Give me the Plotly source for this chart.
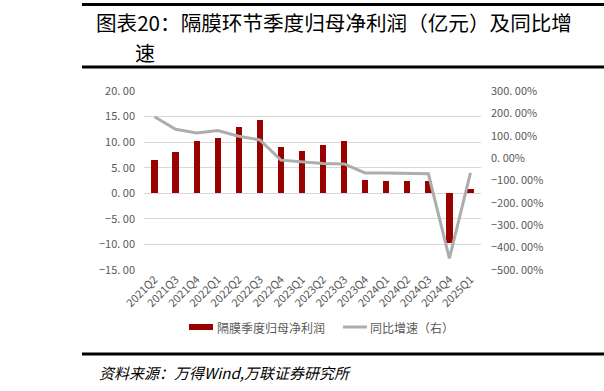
import plotly.graph_objects as go

categories = ["2021Q2", "2021Q3", "2021Q4", "2022Q1", "2022Q2", "2022Q3", "2022Q4",
              "2023Q1", "2023Q2", "2023Q3", "2023Q4", "2024Q1", "2024Q2", "2024Q3",
              "2024Q4", "2025Q1"]
net_profit = [6.6, 8.0, 10.2, 10.8, 13.0, 14.3, 9.0, 8.2, 9.4, 10.2, 2.65, 2.45, 2.5, 2.45, -9.8, 0.85]
yoy_growth = [185, 129, 112, 123, 98, 81, -9, -18, -24, -26, -66, -66, -67, -70, -448, -66]

left_ticks = [20, 15, 10, 5, 0, -5, -10, -15]
left_text = ["20. 00", "15. 00", "10. 00", "5. 00", "0. 00", "−5. 00", "−10. 00", "−15. 00"]
right_ticks = [300, 200, 100, 0, -100, -200, -300, -400, -500]
right_text = ["300. 00%", "200. 00%", "100. 00%", "0. 00%", "−100. 00%", "−200. 00%",
              "−300. 00%", "−400. 00%", "−500. 00%"]

FONT = "Noto Sans CJK SC"
GRAY = "#595959"

# plot area in pixels
L, R, T, B = 144, 481, 91, 270
W, H = R - L, B - T


def px(x):
    return (x - L) / W


def py(y):
    return (B - y) / H


fig = go.Figure()
fig.add_trace(go.Bar(x=categories, y=net_profit, name="隔膜季度归母净利润",
                     marker=dict(color="#990000", line=dict(width=0)), width=0.3,
                     yaxis="y", showlegend=False))
fig.add_trace(go.Scatter(x=categories, y=yoy_growth, name="同比增速（右）", mode="lines",
                         line=dict(color="#ADADAD", width=3), yaxis="y2", showlegend=False))

shapes = []
for (x0, x1, y) in [(82, 610, 4.5), (82, 610, 67), (82, 610, 354)]:
    shapes.append(dict(type="line", xref="paper", yref="paper", x0=px(x0), x1=px(x1),
                       y0=py(y), y1=py(y), line=dict(color="black", width=3)))
# legend marks
shapes.append(dict(type="rect", xref="paper", yref="paper", x0=px(189), x1=px(213),
                   y0=py(330), y1=py(324), fillcolor="#990000", line=dict(width=0)))
shapes.append(dict(type="line", xref="paper", yref="paper", x0=px(343), x1=px(367),
                   y0=py(327), y1=py(327), line=dict(color="#ADADAD", width=3)))

annotations = [
    dict(text="图表20：隔膜环节季度归母净利润（亿元）及同比增", x=px(94), y=py(22),
         xanchor="left", yanchor="middle", font=dict(family=FONT, size=20.6, color="black")),
    dict(text="速", x=px(133), y=py(53), xanchor="left", yanchor="middle",
         font=dict(family=FONT, size=20, color="black")),
    dict(text="图", x=px(601), y=py(22), xanchor="left", yanchor="middle",
         font=dict(family=FONT, size=20, color="black")),
    dict(text="隔膜季度归母净利润", x=px(215), y=py(327), xanchor="left", yanchor="middle",
         font=dict(family=FONT, size=12, color=GRAY)),
    dict(text="同比增速（右）", x=px(368), y=py(327), xanchor="left", yanchor="middle",
         font=dict(family=FONT, size=12, color=GRAY)),
    dict(text="资料来源：万得Wind,万联证券研究所", x=px(97), y=py(372), xanchor="left",
         yanchor="middle", font=dict(family=FONT, size=15, color="black", style="italic")),
]
for a in annotations:
    a.update(xref="paper", yref="paper", showarrow=False)

fig.update_layout(
    width=604, height=391,
    margin=dict(l=L, r=604 - R, t=T, b=391 - B, pad=0),
    paper_bgcolor="white", plot_bgcolor="white",
    bargap=0,
    xaxis=dict(type="category", range=[-0.5, 15.5], tickangle=-45, showgrid=False,
               showline=False, ticks="", tickfont=dict(family=FONT, size=11, color=GRAY)),
    yaxis=dict(range=[-15, 20], tickvals=left_ticks, ticktext=left_text, showgrid=True,
               gridcolor="#D9D9D9", gridwidth=1, zeroline=False, showline=False, ticks="",
               ticklabelstandoff=8, tickfont=dict(family=FONT, size=11, color=GRAY)),
    yaxis2=dict(range=[-500, 300], tickvals=right_ticks, ticktext=right_text, overlaying="y",
                side="right", showgrid=False, zeroline=False, showline=False, ticks="",
                ticklabelstandoff=9, tickfont=dict(family=FONT, size=11, color=GRAY)),
    shapes=shapes, annotations=annotations, showlegend=False,
)

fig.write_html("out.html", config={"displayModeBar": False},
               post_script="document.body.style.margin='0';document.body.style.overflow='hidden';")
